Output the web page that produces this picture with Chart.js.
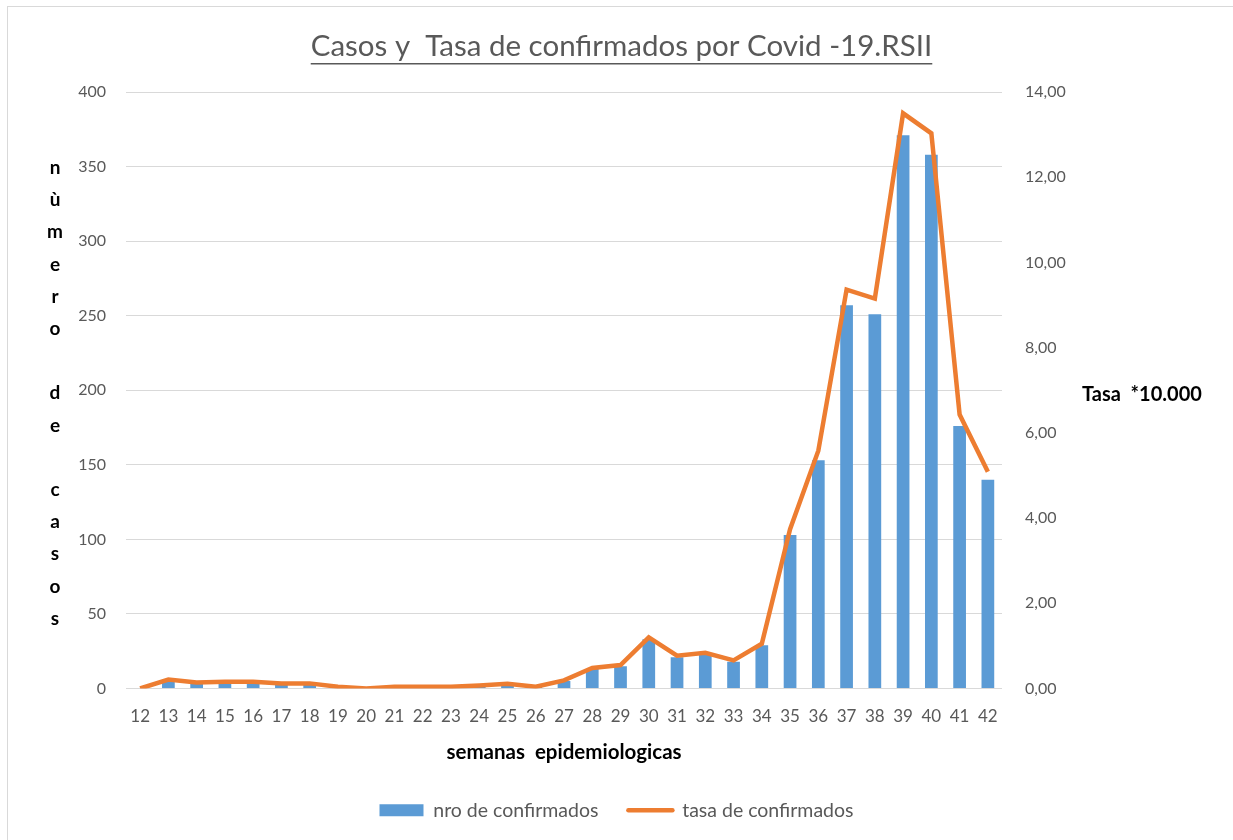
<!DOCTYPE html>
<html lang="es">
<head>
    <meta charset="UTF-8">
    <title>Casos y Tasa de confirmados por Covid -19.RSII</title>
    <script src="https://cdn.jsdelivr.net/npm/chart.js"></script>
    <style>
        html, body { margin: 0; padding: 0; background: #fff; }
        #wrap { width: 1233px; height: 840px; position: relative; }
    </style>
</head>
<body>
<div id="wrap"><canvas id="chart"></canvas></div>
<script>
    // semanas epidemiologicas 12 a 42
    const semanas = ['12','13','14','15','16','17','18','19','20','21','22','23','24','25','26','27',
                     '28','29','30','31','32','33','34','35','36','37','38','39','40','41','42'];
    // nro de confirmados
    const confirmados = [0, 6, 4, 4, 4, 3, 3, 1, 0, 1, 1, 1, 2, 3, 1, 5,
                         13, 15, 33, 21, 23, 18, 29, 103, 153, 257, 251, 371, 358, 176, 140];
    // tasa de confirmados (*10.000)
    const tasa = [0, 0.21, 0.14, 0.16, 0.16, 0.12, 0.12, 0.04, 0, 0.04, 0.04, 0.04, 0.07, 0.11, 0.04, 0.19,
                  0.48, 0.55, 1.2, 0.77, 0.84, 0.66, 1.05, 3.74, 5.58, 9.36, 9.15, 13.5, 13.03, 6.43, 5.09];

    const titulo = 'Casos y  Tasa de confirmados por Covid -19.RSII';
    const tituloY = ['n', 'ù', 'm', 'e', 'r', 'o', '', 'd', 'e', '', 'c', 'a', 's', 'o', 's'];
    const tituloY1 = 'Tasa  *10.000';
    const tituloX = 'semanas  epidemiologicas';

    const FONT = 'Lato';
    const GRIS = '#595959';

    // titulo subrayado, titulos de ejes y borde del grafico
    const textos = {
        id: 'textos',
        beforeDraw(chart) {
            const ctx = chart.ctx;
            ctx.save();
            ctx.fillStyle = '#fff';
            ctx.fillRect(0, 0, chart.width, chart.height);
            ctx.strokeStyle = '#d9d9d9';
            ctx.lineWidth = 1;
            ctx.strokeRect(7.5, 6.5, chart.width + 20, chart.height + 20);
            ctx.restore();
        },
        afterDraw(chart) {
            const ctx = chart.ctx;
            const area = chart.chartArea;
            ctx.save();

            // titulo
            ctx.font = '29.5px ' + FONT;
            ctx.fillStyle = GRIS;
            ctx.textAlign = 'center';
            ctx.textBaseline = 'middle';
            const cx = chart.width / 2 + 5;
            ctx.fillText(titulo, cx, 46);
            const w = ctx.measureText(titulo).width;
            ctx.fillRect(cx - w / 2, 63, w, 1.5);

            // titulo eje izquierdo, letra por letra
            ctx.font = 'bold 19px ' + FONT;
            ctx.fillStyle = '#000';
            const paso = 32.2;
            const y0 = (area.top + area.bottom) / 2 + 3 - paso * (tituloY.length - 1) / 2;
            tituloY.forEach((c, i) => ctx.fillText(c, 55, y0 + i * paso));

            // titulo eje derecho
            ctx.font = 'bold 20px ' + FONT;
            ctx.textAlign = 'left';
            ctx.fillText(tituloY1, area.right + 80, (area.top + area.bottom) / 2 + 4);
            ctx.restore();
        }
    };

    const ctx = document.getElementById('chart').getContext('2d');
    new Chart(ctx, {
        data: {
            labels: semanas,
            datasets: [{
                type: 'line',
                label: 'tasa de confirmados',
                data: tasa,
                yAxisID: 'y1',
                borderColor: '#ed7d31',
                backgroundColor: '#ed7d31',
                borderWidth: 4.5,
                pointRadius: 0,
                tension: 0
            }, {
                type: 'bar',
                label: 'nro de confirmados',
                data: confirmados,
                yAxisID: 'y',
                backgroundColor: '#5b9bd5',
                categoryPercentage: 1,
                barPercentage: 0.45
            }]
        },
        options: {
            responsive: true,
            maintainAspectRatio: false,
            animation: false,
            layout: { padding: { top: 92, bottom: 10, left: 0, right: 0 } },
            plugins: {
                title: { display: false },
                tooltip: { enabled: false },
                legend: {
                    position: 'bottom',
                    labels: {
                        font: { family: FONT, size: 19.5 },
                        color: GRIS,
                        usePointStyle: true,
                        pointStyleWidth: 44,
                        boxHeight: 12,
                        padding: 30,
                        generateLabels(chart) {
                            const ds = chart.data.datasets;
                            return [{
                                text: ds[1].label, datasetIndex: 1, pointStyle: 'rect',
                                fillStyle: ds[1].backgroundColor, strokeStyle: ds[1].backgroundColor,
                                lineWidth: 0, fontColor: GRIS
                            }, {
                                text: ds[0].label, datasetIndex: 0, pointStyle: 'line',
                                fillStyle: ds[0].borderColor, strokeStyle: ds[0].borderColor,
                                lineWidth: 4.5, lineCap: 'round', fontColor: GRIS
                            }];
                        }
                    }
                }
            },
            scales: {
                x: {
                    grid: { display: false, drawTicks: false },
                    border: { display: false },
                    ticks: { color: GRIS, font: { family: FONT, size: 17 }, padding: 18, maxRotation: 0, autoSkip: false },
                    title: {
                        display: true,
                        text: tituloX,
                        color: '#000',
                        font: { family: FONT, size: 20.5, weight: 'bold' },
                        padding: { top: 0, bottom: 6 }
                    },
                    afterFit(s) { s.height = 82; }
                },
                y: {
                    position: 'left',
                    min: 0,
                    max: 400,
                    ticks: { stepSize: 50, color: GRIS, font: { family: FONT, size: 16 }, padding: 20 },
                    grid: { color: '#d9d9d9', lineWidth: 1, drawTicks: false },
                    border: { display: false },
                    afterFit(s) { s.width = 126; }
                },
                y1: {
                    position: 'right',
                    min: 0,
                    max: 14,
                    ticks: {
                        stepSize: 2, color: GRIS, font: { family: FONT, size: 16 }, padding: 23,
                        callback: v => v.toFixed(2).replace('.', ',')
                    },
                    grid: { display: false, drawTicks: false },
                    border: { display: false },
                    afterFit(s) { s.width = 231; }
                }
            }
        },
        plugins: [textos]
    });
</script>
</body>
</html>
